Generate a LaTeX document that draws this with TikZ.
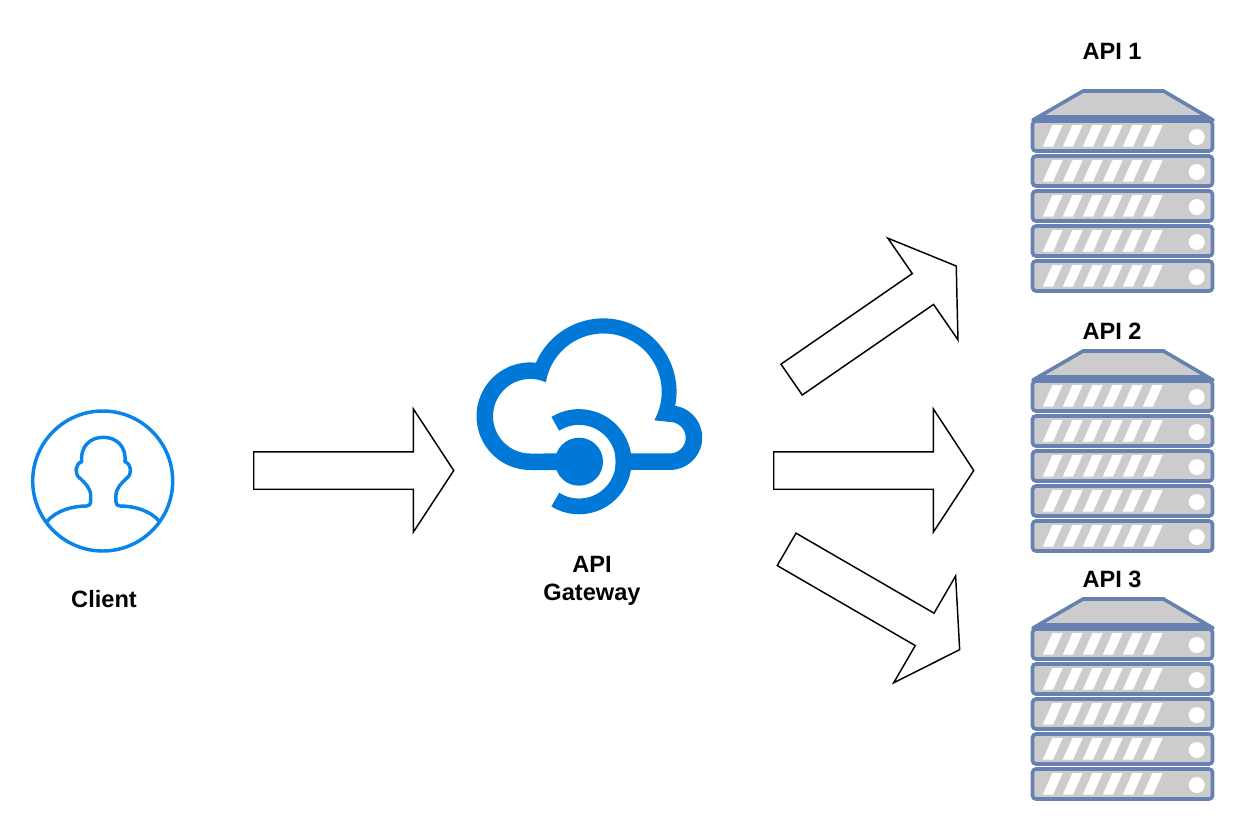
\documentclass[tikz,border=0pt]{standalone}
\usepackage{fontspec}
\setmainfont{Liberation Sans}
\usetikzlibrary{shapes.arrows}

\definecolor{clientblue}{RGB}{8,132,235}
\definecolor{cloudblue}{RGB}{0,120,215}
\definecolor{rackblue}{RGB}{104,129,179}
\definecolor{rackgray}{RGB}{204,204,204}

\tikzset{
  blockarrow/.style={draw=black,fill=white,line width=1.1pt,single arrow,anchor=tail,
    inner xsep=0pt,inner ysep=13.5pt,minimum height=150pt,minimum width=91.5pt,
    single arrow head extend=32.25pt,single arrow tip angle=113.5,single arrow head indent=0pt},
  boldlabel/.style={inner sep=0pt,align=center,font=\fontsize{17.7}{21}\selectfont\bfseries},
  rackline/.style={draw=rackblue,line width=2.7pt},
  apiserver/.pic={
    %roof
    \draw [rackline,fill=rackgray,line join=round] (1,30) -- (51,1) -- (131.5,1) -- (181,30) -- cycle ;
    \fill [rackblue] (1,31) -- (9,25) -- (173,25) -- (181,31) -- cycle ;
    %rows
    \foreach \rowy in {31,66,101,136,171} {
      \draw [rackline,fill=rackgray,rounded corners=2.6pt] (0.5,\rowy) rectangle (180.5,\rowy+30) ;
      \foreach \stripex in {0,20,40,60,80,100} {
        \fill [white] (10.7+\stripex,\rowy+25.7) -- (21+\stripex,\rowy+25.7) -- (30.7+\stripex,\rowy+4) -- (20.4+\stripex,\rowy+4) -- cycle ;
      }
      \fill [white] (164.7,\rowy+16) circle [radius=8] ;
    }
  }
}

\begin{document}
\begin{tikzpicture}[x=0.75pt,y=0.75pt,yscale=-1,xscale=1]
  \useasboundingbox (0,0) rectangle (1244,832);

  %Client icon
  \draw [draw=clientblue,line width=2.6pt] (102.7,481) circle [radius=70] ;
  \draw [draw=clientblue,line width=2.6pt,line join=round] (46.7,521.7) .. controls (56.7,510) and (73.3,506) .. (86.7,506)
    .. controls (89.3,506) and (90.7,504) .. (90.7,501.7)
    -- (90.7,496) .. controls (90.7,488) and (85,483) .. (80,478.3)
    .. controls (74,474) and (75,464) .. (81.7,461.7)
    .. controls (80,446.7) and (90,437.3) .. (103.3,437.3)
    .. controls (116.6,437.3) and (126.6,446.7) .. (124.9,461.7)
    .. controls (131.6,464) and (132.6,474) .. (126.6,478.3)
    .. controls (121.6,483) and (115.9,488) .. (115.9,496) -- (115.9,501.7)
    .. controls (115.9,504) and (117.3,506) .. (119.9,506)
    .. controls (133.3,506) and (149.9,510) .. (159.9,521.7) ;

  %Gateway icon
  \coordinate (gwhub) at (579,461.7);
  \fill [cloudblue,even odd rule] (530.3,470) arc [start angle=90,end angle=276,radius=53.8]
    arc [start angle=203.3,end angle=371.1,radius=73.3]
    arc [start angle=279.3,end angle=450,radius=32.3] -- cycle
    (530.3,453.5) arc [start angle=90,end angle=294.7,radius=37.3]
    arc [start angle=189.3,end angle=389.3,radius=58.3]
    -- (670,422) arc [start angle=270,end angle=450,radius=15.7] -- cycle ;
  \draw [draw=white,line width=10pt] ([shift={(-122:30)}]gwhub) arc [start angle=-122,end angle=122,radius=30] ;
  \fill [cloudblue] (gwhub) circle [radius=24] ;
  \draw [draw=cloudblue,line width=11.8pt] ([shift={(-122:44.7)}]gwhub) arc [start angle=-122,end angle=122,radius=44.7] ;

  %Block arrows
  \node (arrowClient) [blockarrow] at (253,470.5) {};
  \node (arrowMiddle) [blockarrow] at (773,470.5) {};
  \node (arrowUpper) [blockarrow,rotate=34.6] at (791,380) {};
  \node (arrowLower) [blockarrow,rotate=-30.1] at (786,549) {};

  %Servers
  \pic (serverOne) [transform shape] at (1032,90) {apiserver};
  \pic (serverTwo) [transform shape] at (1032,350) {apiserver};
  \pic (serverThree) [transform shape] at (1032,598) {apiserver};

  %Text Nodes
  \node (labelClient) [boldlabel] at (104,599) {Client};
  \node (labelGateway) [boldlabel] at (592,581) {API\\Gateway};
  \node (labelOne) [boldlabel] at (1112,51) {API 1};
  \node (labelTwo) [boldlabel] at (1112,331) {API 2};
  \node (labelThree) [boldlabel] at (1112,579) {API 3};
\end{tikzpicture}
\end{document}
